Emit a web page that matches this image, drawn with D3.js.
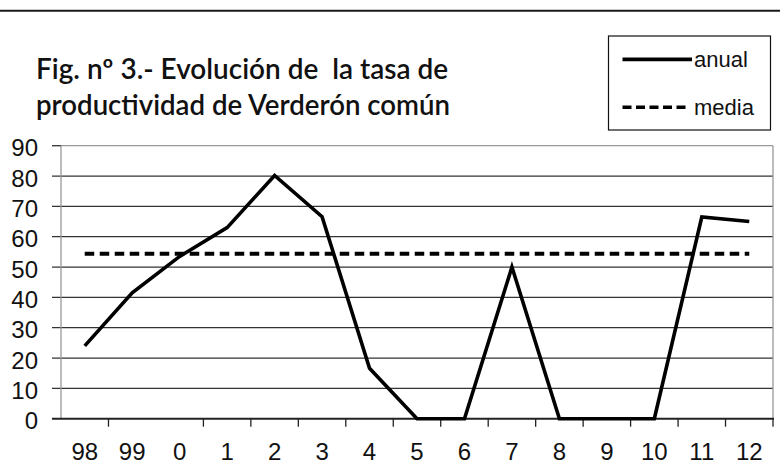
<!DOCTYPE html>
<html>
<head>
<meta charset="utf-8">
<script src="https://cdn.jsdelivr.net/npm/d3@7"></script>
<style>
  html, body { margin: 0; padding: 0; background: #fff; }
  svg { display: block; }
</style>
</head>
<body>
<svg id="chart" width="781" height="466"></svg>
<script>
// ---- data ----
const categories = ["98", "99", "0", "1", "2", "3", "4", "5", "6", "7", "8", "9", "10", "11", "12"];
const anual = [24, 41.5, 53.5, 63, 80.2, 66.6, 16.6, 0, 0, 50, 0, 0, 0, 66.5, 65];
const media = [54.4, 54.4, 54.4, 54.4, 54.4, 54.4, 54.4, 54.4, 54.4, 54.4, 54.4, 54.4, 54.4, 54.4, 54.4];
const yTicks = [0, 10, 20, 30, 40, 50, 60, 70, 80, 90];
const titleLines = ["Fig. nº 3.- Evolución de  la tasa de", "productividad de Verderón común"];
const legendLabels = ["anual", "media"];

// ---- layout ----
const svg = d3.select("#chart");
const plot = { left: 61, right: 773, top: 145.7, bottom: 418.7 };

const x = d3.scaleBand().domain(categories).range([plot.left, plot.right]).padding(0);
const y = d3.scaleLinear().domain([0, 90]).range([plot.bottom, plot.top]);
const cx = d => x(d) + x.bandwidth() / 2;

// top rule line
svg.append("line")
  .attr("x1", 0).attr("x2", 780).attr("y1", 10.7).attr("y2", 10.7)
  .attr("stroke", "#1a1a1a").attr("stroke-width", 2);

// title
const titleFont = "Lato, 'Noto Sans', sans-serif";
const titleWidths = [412, 414];
titleLines.forEach((t, i) => {
  svg.append("text")
    .attr("x", 36).attr("y", 79 + i * 36)
    .attr("font-family", titleFont)
    .attr("font-size", 28)
    .attr("font-weight", 600)
    .attr("fill", "#111")
    .style("white-space", "pre")
    .attr("textLength", titleWidths[i])
    .attr("lengthAdjust", "spacingAndGlyphs")
    .text(t);
});

// legend
const lg = svg.append("g");
lg.append("rect")
  .attr("x", 608.5).attr("y", 36).attr("width", 162).attr("height", 94)
  .attr("fill", "#fff").attr("stroke", "#111").attr("stroke-width", 1.2);
lg.append("line")
  .attr("x1", 622.5).attr("x2", 692).attr("y1", 59.3).attr("y2", 59.3)
  .attr("stroke", "#000").attr("stroke-width", 3.8);
lg.append("line")
  .attr("x1", 622.5).attr("x2", 690).attr("y1", 107.3).attr("y2", 107.3)
  .attr("stroke", "#000").attr("stroke-width", 3.6).attr("stroke-dasharray", "9,4.5");
legendLabels.forEach((t, i) => {
  lg.append("text")
    .attr("x", 694).attr("y", 66.7 + i * 48.3)
    .attr("font-family", "'Liberation Sans', Arial, sans-serif")
    .attr("font-size", 22)
    .attr("fill", "#111")
    .text(t);
});

// gridlines (with outward ticks)
svg.append("g").selectAll("line.grid")
  .data(yTicks.filter(v => v > 0 && v < 90))
  .join("line")
  .attr("x1", 52).attr("x2", plot.right)
  .attr("y1", d => y(d)).attr("y2", d => y(d))
  .attr("stroke", "#333").attr("stroke-width", 1.3);

// plot border (top/right/left gray)
svg.append("line")
  .attr("x1", plot.left).attr("x2", plot.right).attr("y1", y(90)).attr("y2", y(90))
  .attr("stroke", "#999").attr("stroke-width", 1.3);
svg.append("line")
  .attr("x1", 52).attr("x2", plot.left).attr("y1", y(90)).attr("y2", y(90))
  .attr("stroke", "#333").attr("stroke-width", 1.3);
svg.append("line")
  .attr("x1", plot.right).attr("x2", plot.right).attr("y1", y(90)).attr("y2", y(0))
  .attr("stroke", "#999").attr("stroke-width", 1.3);
svg.append("line")
  .attr("x1", plot.left).attr("x2", plot.left).attr("y1", y(90)).attr("y2", y(0))
  .attr("stroke", "#999").attr("stroke-width", 1.3);

// y labels
svg.append("g").selectAll("text")
  .data(yTicks)
  .join("text")
  .attr("x", 38).attr("y", d => y(d) + 10.5)
  .attr("text-anchor", "end")
  .attr("font-family", "'Liberation Sans', Arial, sans-serif")
  .attr("font-size", 24)
  .attr("fill", "#111")
  .text(d => d);

// x axis line
svg.append("line")
  .attr("x1", 52).attr("x2", plot.right + 1).attr("y1", y(0)).attr("y2", y(0))
  .attr("stroke", "#222").attr("stroke-width", 2);

// x ticks at category boundaries (boundary after "99" is not drawn in the original)
const boundaries = categories.map(c => x(c) + x.bandwidth()).filter((b, i) => i !== 1);
svg.append("g").selectAll("line")
  .data(boundaries)
  .join("line")
  .attr("x1", d => d).attr("x2", d => d)
  .attr("y1", y(0)).attr("y2", y(0) + 8)
  .attr("stroke", "#222").attr("stroke-width", 1.3);

// x labels
svg.append("g").selectAll("text")
  .data(categories)
  .join("text")
  .attr("x", d => cx(d)).attr("y", 460)
  .attr("text-anchor", "middle")
  .attr("font-family", "'Liberation Sans', Arial, sans-serif")
  .attr("font-size", 24)
  .attr("fill", "#111")
  .text(d => d);

// media (dashed)
const line = d3.line().x((d, i) => cx(categories[i])).y(d => y(d));
svg.append("path")
  .datum(media)
  .attr("d", line)
  .attr("fill", "none")
  .attr("stroke", "#000")
  .attr("stroke-width", 4)
  .attr("stroke-dasharray", "9.5,5.5");

// anual (solid)
svg.append("path")
  .datum(anual)
  .attr("d", line)
  .attr("fill", "none")
  .attr("stroke", "#000")
  .attr("stroke-width", 3.6)
  .attr("stroke-linejoin", "miter");
</script>
</body>
</html>
